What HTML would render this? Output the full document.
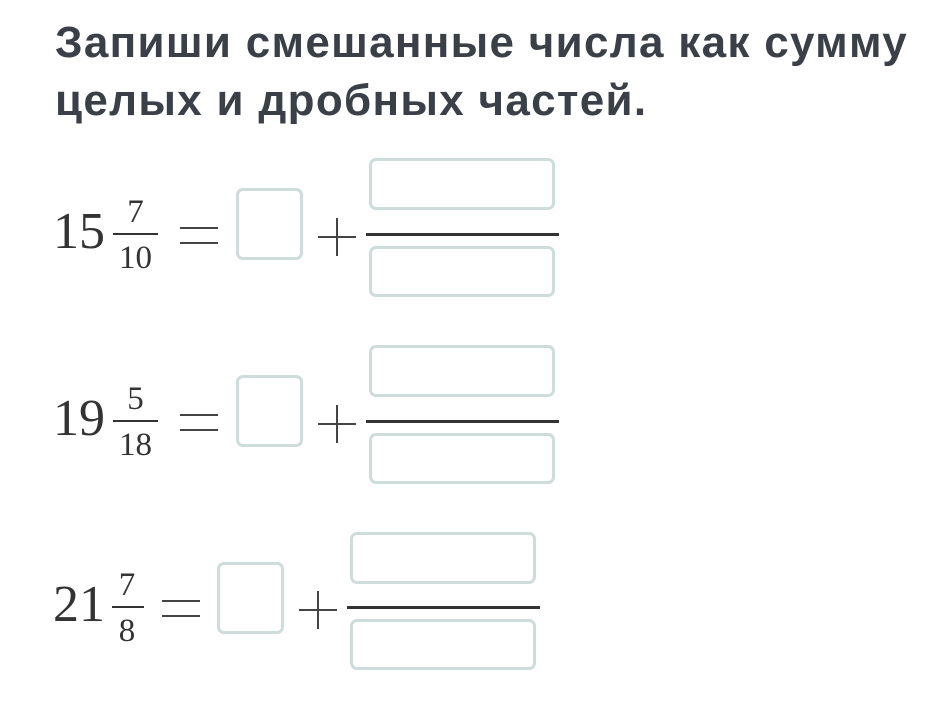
<!DOCTYPE html>
<html><head><meta charset="utf-8"><style>
body{margin:0;width:949px;height:718px;background:#fff;position:relative;overflow:hidden;font-family:"Liberation Serif",serif;color:#333}
.t{position:absolute;left:55px;font-family:"Liberation Sans",sans-serif;font-weight:bold;font-size:44px;letter-spacing:1.3px;color:#3b4048;white-space:nowrap}
.a{position:absolute;white-space:nowrap;line-height:1}
.b{position:absolute;border:3px solid #cfdcdc;border-radius:7px;box-sizing:border-box;background:#fff}
.l{position:absolute;height:3px;background:#333}
.h{position:absolute;height:2px;background:#444}
.v{position:absolute;width:2px;background:#444}
</style></head><body>
<div class="t" style="top:18px">Запиши смешанные числа как сумму</div>
<div class="t" style="top:76px">целых и дробных частей.</div>

<!-- row 1 -->
<div class="a" style="left:53px;top:206px;font-size:52px">15</div>
<div class="a" style="left:113px;width:45px;text-align:center;top:196px;font-size:33px">7</div>
<div class="l" style="left:113px;top:233px;width:45px;height:2px"></div>
<div class="a" style="left:113px;width:45px;text-align:center;top:242px;font-size:33px">10</div>
<div class="h" style="left:180px;top:227px;width:38px"></div>
<div class="h" style="left:180px;top:242px;width:38px"></div>
<div class="b" style="left:236px;top:188px;width:67px;height:72px"></div>
<div class="h" style="left:318px;top:236px;width:38px"></div>
<div class="v" style="left:336px;top:218px;height:38px"></div>
<div class="b" style="left:369px;top:158px;width:186px;height:52px"></div>
<div class="l" style="left:366px;top:233px;width:193px"></div>
<div class="b" style="left:369px;top:246px;width:186px;height:51px"></div>

<!-- row 2 -->
<div class="a" style="left:53px;top:393px;font-size:52px">19</div>
<div class="a" style="left:113px;width:45px;text-align:center;top:383px;font-size:33px">5</div>
<div class="l" style="left:113px;top:420px;width:45px;height:2px"></div>
<div class="a" style="left:113px;width:45px;text-align:center;top:429px;font-size:33px">18</div>
<div class="h" style="left:180px;top:414px;width:38px"></div>
<div class="h" style="left:180px;top:429px;width:38px"></div>
<div class="b" style="left:236px;top:375px;width:67px;height:72px"></div>
<div class="h" style="left:318px;top:423px;width:38px"></div>
<div class="v" style="left:336px;top:405px;height:38px"></div>
<div class="b" style="left:369px;top:345px;width:186px;height:52px"></div>
<div class="l" style="left:366px;top:420px;width:193px"></div>
<div class="b" style="left:369px;top:433px;width:186px;height:51px"></div>

<!-- row 3 -->
<div class="a" style="left:53px;top:579px;font-size:52px">21</div>
<div class="a" style="left:110px;width:34px;text-align:center;top:569px;font-size:33px">7</div>
<div class="l" style="left:112px;top:606px;width:32px;height:2px"></div>
<div class="a" style="left:110px;width:34px;text-align:center;top:615px;font-size:33px">8</div>
<div class="h" style="left:162px;top:600px;width:38px"></div>
<div class="h" style="left:162px;top:615px;width:38px"></div>
<div class="b" style="left:217px;top:562px;width:67px;height:72px"></div>
<div class="h" style="left:299px;top:609px;width:38px"></div>
<div class="v" style="left:317px;top:591px;height:38px"></div>
<div class="b" style="left:350px;top:532px;width:186px;height:52px"></div>
<div class="l" style="left:347px;top:606px;width:193px"></div>
<div class="b" style="left:350px;top:619px;width:186px;height:51px"></div>
</body></html>
